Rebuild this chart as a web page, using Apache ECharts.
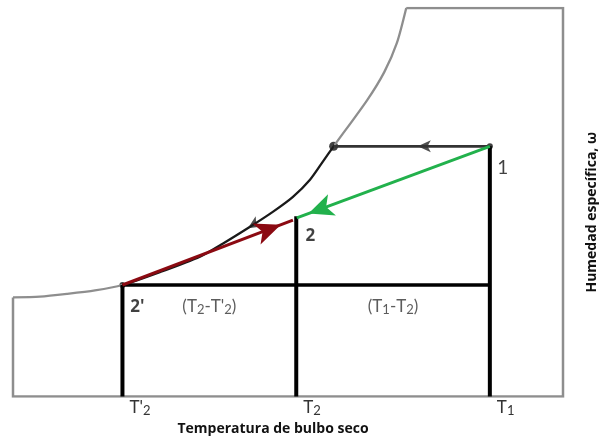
<!DOCTYPE html>
<html><head><meta charset="utf-8">
<script src="https://cdn.jsdelivr.net/npm/echarts@6/dist/echarts.min.js"></script>
<style>html,body{margin:0;padding:0;background:#fff}#c{width:600px;height:439px}</style>
</head><body><div id="c"></div>
<script>
// Chart units: dry-bulb temperature (x) and specific humidity (y), both 0..100 (schematic)
const satX = [0, 4.9, 9.8, 14.9, 19.9, 26.7, 34.0, 38.2, 43.1, 47.3, 50.9, 54.0, 56.4, 58.3, 64.4, 67.5, 69.8, 71.5];
const satY = [25.5, 25.7, 26.4, 27.3, 28.7, 32.0, 36.0, 39.4, 43.7, 47.6, 51.4, 55.8, 60.6, 64.4, 76.3, 83.5, 91.0, 100];
const frameX = [71.5, 100, 100, 0, 0];
const frameY = [100, 100, 0, 0, 25.5];
const tickValues = [19.9, 51.5, 86.7];
const tickNames = ["T'2", "T2", "T1"];
const stateNames = ["1", "2", "2'"];
const stateX = [86.7, 51.5, 19.9];
const stateY = [64.4, 46.0, 28.7];
const dewPoint = [58.3, 64.4];
const regionNames = ["(T2-T'2)", "(T1-T2)"];

const zip = (xs, ys) => xs.map((x, i) => [x, ys[i]]);
const sat = zip(satX, satY);

function subText(s, base, sub) {
  let out = '';
  for (const ch of s) {
    if (/[0-9]/.test(ch)) out += '{' + sub + '|' + ch + '}';
    else out += '{' + base + '|' + ch + '}';
  }
  return out;
}
const richTxt = {
  t: {fontFamily: 'Lato', fontSize: 17, color: '#333'},
  s: {fontFamily: 'Lato', fontSize: 13, color: '#333', verticalAlign: 'bottom', padding: [0, 0, -1, 0]}
};

// vertical lines from the axis up to states 2', 2, 1
const vTops = [stateY[2], stateY[1] + 0.4, stateY[0]];
const vLines = tickValues.map((x, i) => ({
  type: 'line', silent: true, symbol: 'none',
  data: [[x, 0], [x, vTops[i]]],
  lineStyle: {color: '#000', width: 4}
}));

const option = {
  animation: false,
  grid: {left: 13, right: 37, top: 8, bottom: 42.5, outerBoundsMode: 'none', containLabel: false},
  visualMap: {
    type: 'piecewise', show: false, seriesIndex: 1, dimension: 0,
    pieces: [{gte: stateX[2], lte: dewPoint[0], color: '#1a1a1a'}],
    outOfRange: {color: '#8e8e8e'}
  },
  xAxis: {
    type: 'value', min: 0, max: 100,
    axisLine: {show: false}, axisTick: {show: false}, splitLine: {show: false},
    axisLabel: {
      customValues: tickValues, align: 'left', margin: 3, padding: [0, 0, 0, 7],
      formatter: v => subText(tickNames[tickValues.indexOf(v)], 't', 's'),
      rich: richTxt
    },
    name: 'Temperatura de bulbo seco', nameLocation: 'middle', nameGap: 22,
    nameTextStyle: {fontFamily: 'Open Sans', fontWeight: 'bold', fontSize: 14, color: '#111', padding: [0, 30, 0, 0]}
  },
  yAxis: {
    type: 'value', min: 0, max: 100, position: 'right',
    axisLine: {show: false}, axisTick: {show: false}, splitLine: {show: false}, axisLabel: {show: false},
    name: 'Humedad específica, ω', nameLocation: 'middle', nameRotate: 90, nameGap: 22,
    nameTextStyle: {fontFamily: 'Open Sans', fontWeight: 'bold', fontSize: 14, color: '#111', padding: [0, 20, 0, 0]}
  },
  series: [
    {type: 'line', silent: true, symbol: 'none', data: zip(frameX, frameY),
     lineStyle: {color: '#8e8e8e', width: 2.5, join: 'miter'}},
    {type: 'line', silent: true, symbol: 'none', smooth: 0.25, data: sat,
     lineStyle: {width: 2.3}},
    {type: 'line', silent: true, symbol: 'none', data: [dewPoint, [stateX[0], stateY[0]]],
     lineStyle: {color: '#333', width: 2.7}},
    ...vLines,
    {type: 'line', silent: true, symbol: 'none', data: [[stateX[2], stateY[2]], [stateX[0], stateY[2]]],
     lineStyle: {color: '#000', width: 3.5}},
    {type: 'line', silent: true, symbol: 'none', data: [],
     markLine: {silent: true, animation: false, symbol: ['none', 'arrow'], label: {show: false},
       lineStyle: {color: '#22b14c', width: 3, type: 'solid'},
       data: [[{coord: [stateX[0], stateY[0]]}, {coord: [stateX[1] + 0.1, stateY[1]], symbolSize: [17, 25], symbolOffset: [0, 12.5]}]]}},
    {type: 'line', silent: true, symbol: 'none', data: [],
     markLine: {silent: true, animation: false, symbol: ['none', 'arrow'], label: {show: false},
       lineStyle: {color: '#8b0a12', width: 3, type: 'solid'},
       data: [[{coord: [stateX[2], stateY[2]]}, {coord: [stateX[1] - 0.6, stateY[1] - 0.6], symbolSize: [17, 26], symbolOffset: [0, 13]}]]}},
    // direction arrows on the cooling path
    {type: 'scatter', silent: true, symbol: 'arrow', itemStyle: {color: '#222'},
     data: [
       {value: [73.6, 64.4], symbolRotate: 90, symbolSize: [9, 13]},
       {value: [42.7, 43.3], symbolRotate: 122, symbolSize: [9, 13]}
     ]},
    {type: 'scatter', silent: true, symbol: 'circle', itemStyle: {color: '#111'},
     data: [
       {value: dewPoint, symbolSize: 9},
       {value: [stateX[0], stateY[0]], symbolSize: 6},
       {value: [stateX[2], stateY[2]], symbolSize: 6}
     ]},
    // labels
    {type: 'scatter', silent: true, symbolSize: 0,
     label: {show: true, position: 'inside', color: '#111', fontFamily: 'Lato', fontSize: 19},
     data: [
       {value: [stateX[0], stateY[0]], label: {formatter: stateNames[0], offset: [13, 22], fontWeight: 'normal'}},
       {value: [stateX[1], stateY[1]], label: {formatter: stateNames[1], offset: [14, 18], fontWeight: 'bold', fontFamily: 'Open Sans', fontSize: 17}},
       {value: [stateX[2], stateY[2]], label: {formatter: stateNames[2], offset: [15, 22], fontWeight: 'bold', fontFamily: 'Open Sans', fontSize: 17}},
       {value: [(stateX[2] + stateX[1]) / 2, stateY[2]], label: {formatter: '{t|(}' + subText(regionNames[0].slice(1, -1), 't', 's') + '{t|)}', offset: [0, 22], rich: richTxt}},
       {value: [(stateX[1] + stateX[0]) / 2, stateY[2]], label: {formatter: '{t|(}' + subText(regionNames[1].slice(1, -1), 't', 's') + '{t|)}', offset: [0, 22], rich: richTxt}}
     ]}
  ]
};
const chart = echarts.init(document.getElementById('c'), null, {renderer: 'canvas'});
chart.setOption(option);
</script>
</body></html>
